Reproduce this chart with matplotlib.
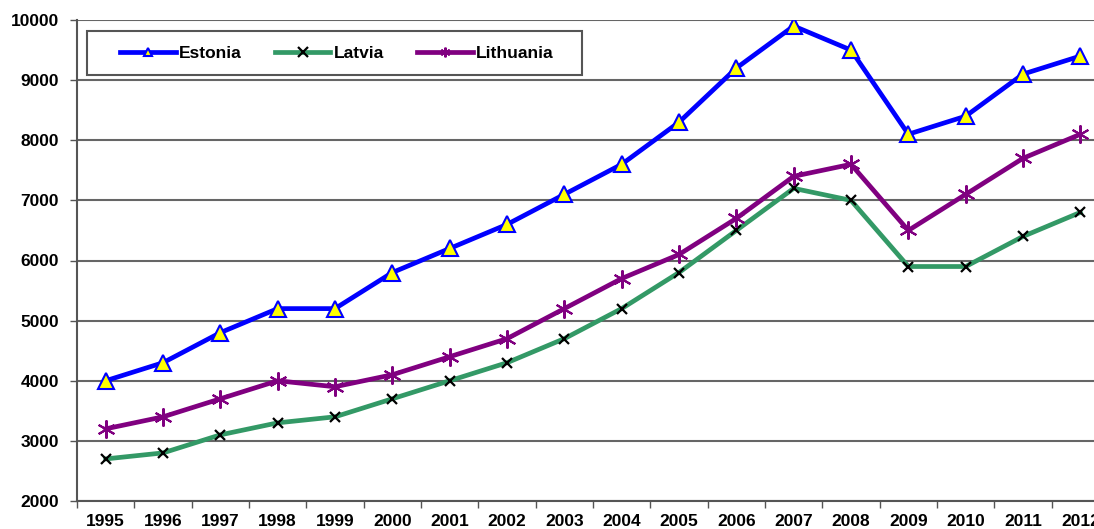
import matplotlib.pyplot as plt
from matplotlib.patches import Rectangle

years = [str(y) for y in range(1995, 2013)]
estonia = [4000, 4300, 4800, 5200, 5200, 5800, 6200, 6600, 7100, 7600,
           8300, 9200, 9900, 9500, 8100, 8400, 9100, 9400]
latvia = [2700, 2800, 3100, 3300, 3400, 3700, 4000, 4300, 4700, 5200,
          5800, 6500, 7200, 7000, 5900, 5900, 6400, 6800]
lithuania = [3200, 3400, 3700, 4000, 3900, 4100, 4400, 4700, 5200, 5700,
             6100, 6700, 7400, 7600, 6500, 7100, 7700, 8100]

plt.rcParams['font.family'] = ['Liberation Sans', 'DejaVu Sans']

W, H = 1094, 529
fig = plt.figure(figsize=(W / 100, H / 100), dpi=100)
ax = fig.add_axes([77 / W, 28 / H, 1032 / W, 481 / H])

x = list(range(len(years)))
ax.plot(x, estonia, color='#0000ff', lw=3.4, marker='^', markersize=11,
        markerfacecolor='#ffff00', markeredgecolor='#0000ff', markeredgewidth=1.5,
        label='Estonia', zorder=5)
ax.plot(x, latvia, color='#339966', lw=3.4, marker='x', markersize=7,
        markeredgecolor='black', markeredgewidth=1.6, label='Latvia', zorder=4)
ax.plot(x, lithuania, color='#800080', lw=3.4, marker=(6, 2, 0), markersize=13,
        markeredgecolor='#800080', markeredgewidth=1.5, label='Lithuania', zorder=4)

ax.set_xlim(-0.5, 17.5)
ax.set_ylim(2000, 10000)
ax.set_yticks(range(2000, 10001, 1000))
ax.yaxis.grid(True, color='#666666', lw=1.5)
ax.set_axisbelow(True)

ax.set_xticks(x)
ax.set_xticklabels(years, fontsize=12.5, fontweight='bold')
ax.tick_params(axis='x', which='major', length=0, pad=9)
ax.set_xticks([i - 0.5 for i in range(len(years) + 1)], minor=True)
ax.tick_params(axis='x', which='minor', length=5, width=1, color='#555555', direction='out')
ax.tick_params(axis='y', length=5, width=1, color='#555555', pad=8, labelsize=12.5)
for lab in ax.get_yticklabels():
    lab.set_fontweight('bold')

for side in ['top', 'right']:
    ax.spines[side].set_visible(False)
for side in ['left', 'bottom']:
    ax.spines[side].set_color('#555555')
    ax.spines[side].set_linewidth(1.5)

# legend without its own frame, box drawn separately
ax.add_patch(Rectangle((87 / W, 1 - 75 / H), 495 / W, 44 / H,
                       transform=fig.transFigure, facecolor='white',
                       edgecolor='#555555', lw=1.5, zorder=10, clip_on=False))
leg = ax.legend(loc='center left', ncol=3, frameon=False,
                bbox_to_anchor=(120 / W, 1 - 53 / H), bbox_transform=fig.transFigure,
                prop={'weight': 'bold', 'size': 12.5},
                handlelength=3.2, handletextpad=0.2, columnspacing=1.9,
                borderpad=0, borderaxespad=0)
for h, ms in zip(leg.legend_handles, [6, 7, 7]):
    h.set_markersize(ms)
leg.set_zorder(11)

fig.savefig('out.png', dpi=100)
